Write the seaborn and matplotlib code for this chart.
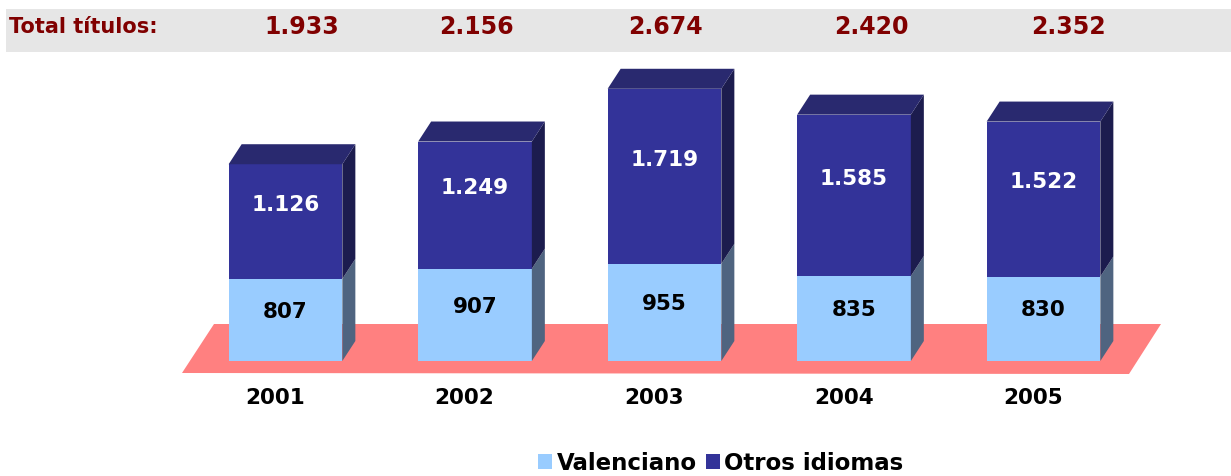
#!/usr/bin/env python3

import matplotlib
matplotlib.use("Agg")
import matplotlib.pyplot as plt
from matplotlib.patches import Polygon, Patch, Rectangle
import seaborn as sns

# === Data ===
years = ["2001", "2002", "2003", "2004", "2005"]
valenciano = [807, 907, 955, 835, 830]
otros = [1126, 1249, 1719, 1585, 1522]
totals = [v + o for v, o in zip(valenciano, otros)]

# === Colours ===
c_light = "#99CCFF"
c_dark = "#333399"
c_dark_top = "#29296F"
c_dark_side = "#1C1C4E"
c_light_side = "#4F6480"
c_floor = "#FF8080"
c_band = "#E6E6E6"
c_red = "#800000"

def fmt(v):
    return f"{v:,}".replace(",", ".")

# === Layout (pixels of a 1231x476 canvas) ===
W, H = 1231, 476
X0_PX, PX_X = 285.5, 189.5      # first bar centre, px per category
BASE_PX, PX_Y = 361, 0.1018     # baseline, px per unit
DX = 13 / PX_X                  # depth of the 3d boxes
DY = 20 / PX_Y

def px(xp, yp):
    return ((xp - X0_PX) / PX_X, (BASE_PX - yp) / PX_Y)

sns.set_style("white")
plt.rcParams["font.family"] = ["DejaVu Sans"]
plt.rcParams["text.color"] = "black"

fig = plt.figure(figsize=(W / 100, H / 100), dpi=100)
ax = fig.add_axes([0, 0, 1, 1])

# floor
floor = Polygon([px(182, 373), px(214, 324), px(1161, 324), px(1129, 374)],
                closed=True, facecolor=c_floor, edgecolor="none", zorder=1)
ax.add_patch(floor)

sns.barplot(x=years, y=totals, color=c_dark, saturation=1, width=0.6,
            linewidth=0, ax=ax, zorder=2)
sns.barplot(x=years, y=valenciano, color=c_light, saturation=1, width=0.6,
            linewidth=0, ax=ax, zorder=2)

n = len(years)
val_bars = ax.patches[-n:]

for i in range(n):
    b = val_bars[i]
    x0 = b.get_x()
    x1 = x0 + b.get_width()
    v = valenciano[i]
    t = totals[i]
    # side faces
    ax.add_patch(Polygon([(x1, 0), (x1 + DX, DY), (x1 + DX, v + DY), (x1, v)],
                         facecolor=c_light_side, edgecolor="none", zorder=2))
    ax.add_patch(Polygon([(x1, v), (x1 + DX, v + DY), (x1 + DX, t + DY), (x1, t)],
                         facecolor=c_dark_side, edgecolor="none", zorder=2))
    # top face
    ax.add_patch(Polygon([(x0, t), (x0 + DX, t + DY), (x1 + DX, t + DY), (x1, t)],
                         facecolor=c_dark_top, edgecolor="none", zorder=2))

    xc = x0 + b.get_width() / 2
    ax.annotate(fmt(v), (xc, v / 2), xytext=(0, 6), textcoords="offset points",
                ha="center", va="center", fontsize=15.5, fontweight="bold",
                color="black", zorder=4)
    ax.annotate(fmt(otros[i]), (xc, v + otros[i] / 2), xytext=(0, 12),
                textcoords="offset points", ha="center", va="center",
                fontsize=15.5, fontweight="bold", color="white", zorder=4)
    # year label
    ax.text(i - 0.055, px(0, 398)[1], years[i], ha="center", va="center",
            fontsize=15.5, fontweight="bold", color="black", zorder=4)

ax.set_xlim(px(0, 0)[0], px(W, 0)[0])
ax.set_ylim(px(0, H)[1], px(0, 0)[1])
ax.axis("off")

# === Header band ===
fig.patches.append(Rectangle((6 / W, 1 - 52 / H), (W - 6) / W, 43 / H,
                             transform=fig.transFigure, facecolor=c_band,
                             edgecolor="none", zorder=0))
fig.text(9 / W, 1 - 27 / H, "Total títulos:", ha="left", va="center",
         fontsize=15, fontweight="bold", color=c_red)
header_x = [302, 476, 665, 871, 1068]
for xp, t in zip(header_x, totals):
    fig.text(xp / W, 1 - 27 / H, fmt(t), ha="center", va="center",
             fontsize=17, fontweight="bold", color=c_red)

# === Legend ===
handles = [Patch(facecolor=c_light, edgecolor="none", label="Valenciano"),
           Patch(facecolor=c_dark, edgecolor="none", label="Otros idiomas")]
leg = fig.legend(handles=handles, loc="center", bbox_to_anchor=(721 / W, 1 - 463 / H),
                 ncol=2, frameon=False, handlelength=0.6, handleheight=0.6,
                 handletextpad=0.2, columnspacing=0.4, labelcolor="black",
                 prop={"size": 16.5, "weight": "bold"})

fig.savefig("out.png", dpi=100)
